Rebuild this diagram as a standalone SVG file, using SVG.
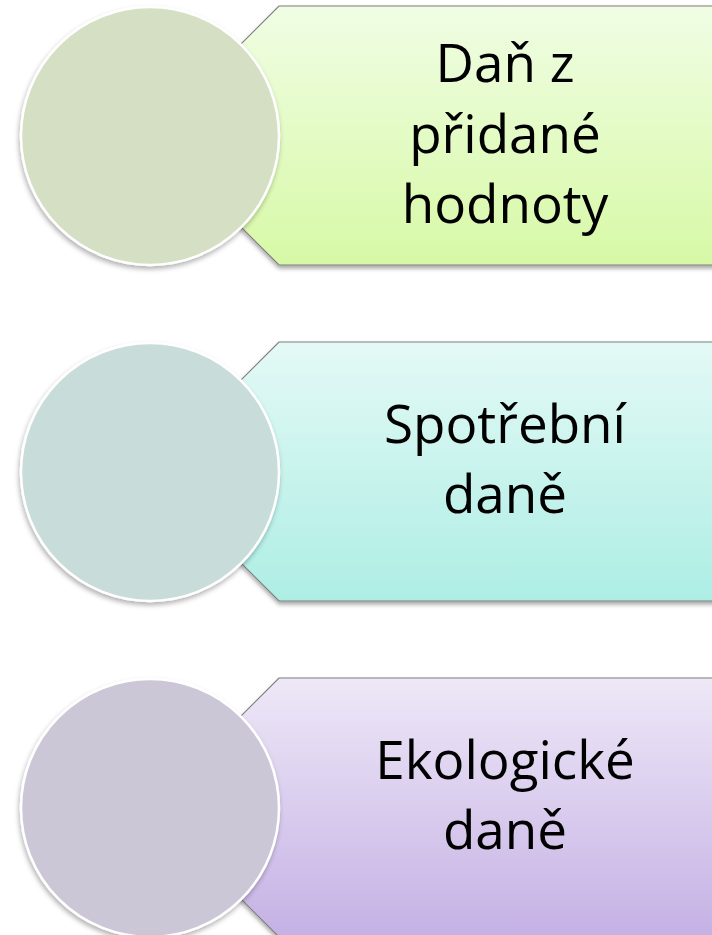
<svg xmlns="http://www.w3.org/2000/svg" width="712" height="935" viewBox="0 0 712 935">
  <style>
    .box { stroke: #7f7f7f; stroke-width: 1.2; filter: url(#sh); }
    .disc { stroke: #ffffff; stroke-width: 2.5; filter: url(#sh2); }
    .lbl { font-family: "Open Sans", "Liberation Sans", sans-serif; font-size: 53px; fill: #000000; text-anchor: middle; }
  </style>
  <defs>
    <filter id="sh" x="-10%" y="-10%" width="130%" height="130%">
      <feDropShadow dx="0" dy="3" stdDeviation="2" flood-color="#000" flood-opacity="0.35"/>
    </filter>
    <filter id="sh2" x="-10%" y="-10%" width="130%" height="130%">
      <feDropShadow dx="-1" dy="3" stdDeviation="2.5" flood-color="#000" flood-opacity="0.3"/>
    </filter>
    <linearGradient id="g1" x1="0" y1="0" x2="0" y2="1">
      <stop offset="0" stop-color="#f0fde4"/>
      <stop offset="1" stop-color="#d7f9a6"/>
    </linearGradient>
    <linearGradient id="g2" x1="0" y1="0" x2="0" y2="1">
      <stop offset="0" stop-color="#e4f9f6"/>
      <stop offset="1" stop-color="#adeee4"/>
    </linearGradient>
    <linearGradient id="g3" x1="0" y1="0" x2="0" y2="1">
      <stop offset="0" stop-color="#eee8f7"/>
      <stop offset="1" stop-color="#c5b1e5"/>
    </linearGradient>
  </defs>

  <g id="connectors"></g>

  <g id="node1">
    <polygon class="box" fill="url(#g1)" points="279,6 730,6 730,265 279,265 149.5,135.5"/>
    <circle class="disc" cx="150" cy="136" r="129" fill="#d5dfc4"/>
    <text class="lbl" x="505" y="82">Daň z</text>
    <text class="lbl" x="505" y="153">přidané</text>
    <text class="lbl" x="505" y="223">hodnoty</text>
  </g>

  <g id="node2">
    <polygon class="box" fill="url(#g2)" points="279,342 730,342 730,601 279,601 149.5,471.5"/>
    <circle class="disc" cx="150" cy="472" r="129" fill="#c8dcd9"/>
    <text class="lbl" x="505" y="443">Spotřební</text>
    <text class="lbl" x="505" y="513">daně</text>
  </g>

  <g id="node3">
    <polygon class="box" fill="url(#g3)" points="279,678 730,678 730,937 279,937 149.5,807.5"/>
    <circle class="disc" cx="150" cy="808" r="129" fill="#ccc7d7"/>
    <text class="lbl" x="505" y="779">Ekologické</text>
    <text class="lbl" x="505" y="849">daně</text>
  </g>
</svg>
